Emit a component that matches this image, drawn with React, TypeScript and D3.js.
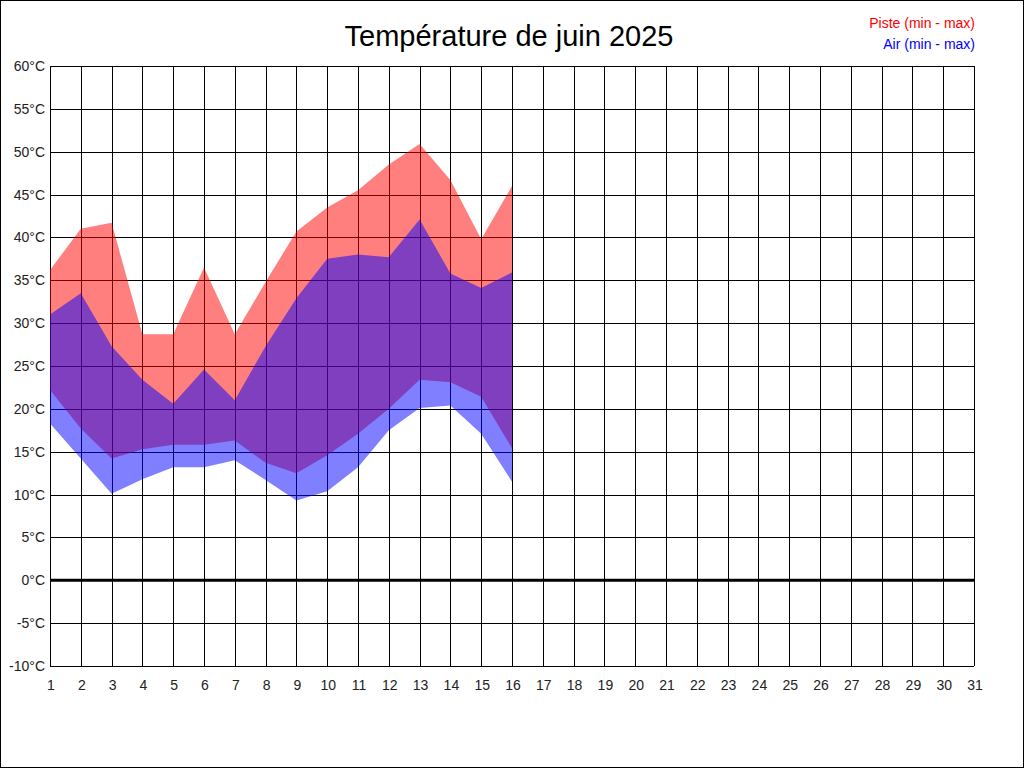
import React, { useEffect, useRef } from 'react';
import * as d3 from 'd3';

// jours du mois
const days = d3.range(1, 32);
const measuredDays = d3.range(1, 17);

// températures (°C)
const pisteMax = [36.2, 41.0, 41.7, 28.7, 28.7, 36.5, 28.7, 34.8, 40.7, 43.5, 45.5, 48.5, 50.9, 46.7, 39.8, 46.0];
const pisteMin = [22.2, 17.7, 14.2, 15.3, 15.8, 15.8, 16.3, 13.7, 12.5, 14.6, 17.1, 20.0, 23.4, 23.1, 21.4, 15.4];
const airMax = [31.0, 33.5, 27.3, 23.4, 20.6, 24.6, 21.0, 27.3, 32.9, 37.5, 38.0, 37.7, 42.1, 35.8, 34.1, 35.9];
const airMin = [18.3, 14.2, 10.1, 11.8, 13.2, 13.2, 14.0, 11.7, 9.3, 10.4, 13.2, 17.5, 20.1, 20.4, 17.1, 11.5];

const yTicks = d3.range(-10, 61, 5);

const W = 1024, H = 768;
const margin = { top: 66, right: 50, bottom: 102, left: 50 };
const font = '"Liberation Sans", Arial, sans-serif';

export default function App() {
    const ref = useRef<SVGSVGElement>(null);

    useEffect(() => {
        document.body.style.margin = '0';
        const svg = d3.select(ref.current);
        svg.selectAll('*').remove();

        const x = d3.scaleLinear().domain([1, 31]).range([margin.left, W - margin.right]);
        const y = d3.scaleLinear().domain([-10, 60]).range([H - margin.bottom, margin.top]);

        svg.append('rect')
            .attr('x', 0.5).attr('y', 0.5)
            .attr('width', W - 1).attr('height', H - 1)
            .attr('fill', '#fff').attr('stroke', '#000');

        // grille
        const grid = svg.append('g').attr('shape-rendering', 'crispEdges').attr('stroke', '#000');
        grid.selectAll('.v').data(days).enter().append('line')
            .attr('x1', d => Math.round(x(d)) + 0.5).attr('x2', d => Math.round(x(d)) + 0.5)
            .attr('y1', y(60)).attr('y2', y(-10));
        grid.selectAll('.h').data(yTicks).enter().append('line')
            .attr('x1', x(1)).attr('x2', x(31))
            .attr('y1', d => Math.round(y(d)) + 0.5).attr('y2', d => Math.round(y(d)) + 0.5);

        const area = (hi: number[], lo: number[]) => d3.area<number>()
            .x(d => x(d))
            .y0((d, i) => y(lo[i]))
            .y1((d, i) => y(hi[i]))(measuredDays);

        svg.append('path').attr('d', area(pisteMax, pisteMin)).attr('fill', 'rgba(255,0,0,0.5)');
        svg.append('path').attr('d', area(airMax, airMin)).attr('fill', 'rgba(0,0,255,0.5)');

        // ligne du zéro
        svg.append('line')
            .attr('x1', x(1)).attr('x2', x(31))
            .attr('y1', y(0)).attr('y2', y(0))
            .attr('stroke', '#000').attr('stroke-width', 3);

        svg.append('g').selectAll('text').data(yTicks).enter().append('text')
            .attr('x', x(1) - 5).attr('y', d => y(d) + 5)
            .attr('text-anchor', 'end')
            .attr('font-family', font).attr('font-size', 14).attr('fill', '#222')
            .text(d => `${d}°C`);

        svg.append('g').selectAll('text').data(days).enter().append('text')
            .attr('x', d => x(d) + 1).attr('y', H - margin.bottom + 24)
            .attr('text-anchor', 'middle')
            .attr('font-family', font).attr('font-size', 14).attr('fill', '#222')
            .text(d => d);

        svg.append('text')
            .attr('x', 509).attr('y', 46)
            .attr('text-anchor', 'middle')
            .attr('font-family', font).attr('font-size', 29)
            .text('Température de juin 2025');

        svg.append('text')
            .attr('x', 975).attr('y', 28)
            .attr('text-anchor', 'end')
            .attr('font-family', font).attr('font-size', 14).attr('fill', '#f00')
            .text('Piste (min - max)');
        svg.append('text')
            .attr('x', 975).attr('y', 49)
            .attr('text-anchor', 'end')
            .attr('font-family', font).attr('font-size', 14).attr('fill', '#00f')
            .text('Air (min - max)');
    }, []);

    return <svg ref={ref} width={W} height={H} style={{ display: 'block' }} />;
}
